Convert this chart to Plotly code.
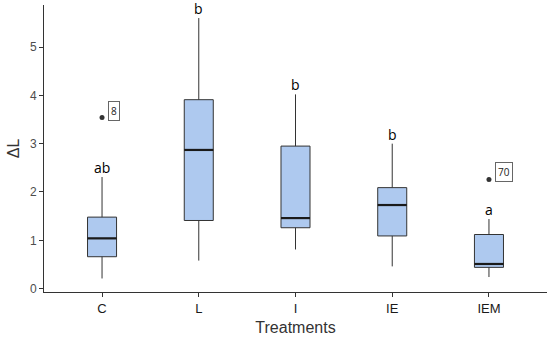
import plotly.graph_objects as go

categories = ["C", "L", "I", "IE", "IEM"]
q1 = [0.66, 1.41, 1.26, 1.09, 0.44]
median = [1.04, 2.87, 1.46, 1.73, 0.51]
q3 = [1.48, 3.91, 2.95, 2.09, 1.12]
lower_whisker = [0.21, 0.58, 0.81, 0.46, 0.24]
upper_whisker = [2.31, 5.60, 4.02, 3.00, 1.44]
letters = ["ab", "b", "b", "b", "a"]
outlier_cat = [0, 4]
outlier_val = [3.54, 2.26]
outlier_lab = ["8", "70"]

xs = list(range(len(categories)))
fill = "#AEC9EF"
edge = "#333333"
half = 0.15

fig = go.Figure()
fig.add_trace(go.Box(
    x=xs, q1=q1, median=median, q3=q3,
    lowerfence=lower_whisker, upperfence=upper_whisker,
    fillcolor=fill, line=dict(color=edge, width=1),
    width=2 * half, whiskerwidth=0, boxpoints=False, showlegend=False,
    hoverinfo="skip",
))
# thicker median lines
mx, my = [], []
for i, m in zip(xs, median):
    mx += [i - half, i + half, None]
    my += [m, m, None]
fig.add_trace(go.Scatter(x=mx, y=my, mode="lines",
                         line=dict(color="#1a1a1a", width=2.2),
                         showlegend=False, hoverinfo="skip"))
# outliers
fig.add_trace(go.Scatter(x=outlier_cat, y=outlier_val, mode="markers",
                         marker=dict(color="#333333", size=5),
                         showlegend=False, hoverinfo="skip"))

ann = []
for i, (u, t) in enumerate(zip(upper_whisker, letters)):
    ann.append(dict(x=i, y=u, text=t, showarrow=False, yanchor="bottom",
                    yshift=-2, font=dict(family="Open Sans, DejaVu Sans", size=14, color="black")))
for c, v, t in zip(outlier_cat, outlier_val, outlier_lab):
    ann.append(dict(x=c, y=v, text=t, showarrow=False, xanchor="left",
                    xshift=6, yshift=7, bordercolor="#666666", borderwidth=1,
                    borderpad=2, bgcolor="white",
                    font=dict(family="Open Sans, DejaVu Sans", size=10, color="#222222")))

fig.update_layout(
    width=550, height=342,
    margin=dict(l=44, r=3, t=5, b=50),
    plot_bgcolor="white", paper_bgcolor="white",
    font=dict(family="Liberation Sans, Arial", color="#333333"),
    annotations=ann,
)
fig.update_xaxes(
    range=[-0.6, 4.6], tickvals=xs, ticktext=categories,
    showgrid=False, zeroline=False, showline=True, linecolor="#333333", linewidth=1,
    ticks="outside", ticklen=4, tickcolor="#333333",
    tickfont=dict(size=13, color="#1a1a1a"),
    title=dict(text="Treatments", font=dict(size=16, color="#333333"), standoff=7),
)
fig.update_yaxes(
    range=[-0.07, 5.87], tickvals=[0, 1, 2, 3, 4, 5],
    showgrid=False, zeroline=False, showline=True, linecolor="#333333", linewidth=1,
    ticks="outside", ticklen=4, tickcolor="#333333",
    tickfont=dict(size=12, color="#4d4d4d"),
    title=dict(text="ΔL", font=dict(size=16, color="#333333"), standoff=6),
)

fig.write_html("out.html", config={"displayModeBar": False},
               post_script="document.body.style.margin='0';")
